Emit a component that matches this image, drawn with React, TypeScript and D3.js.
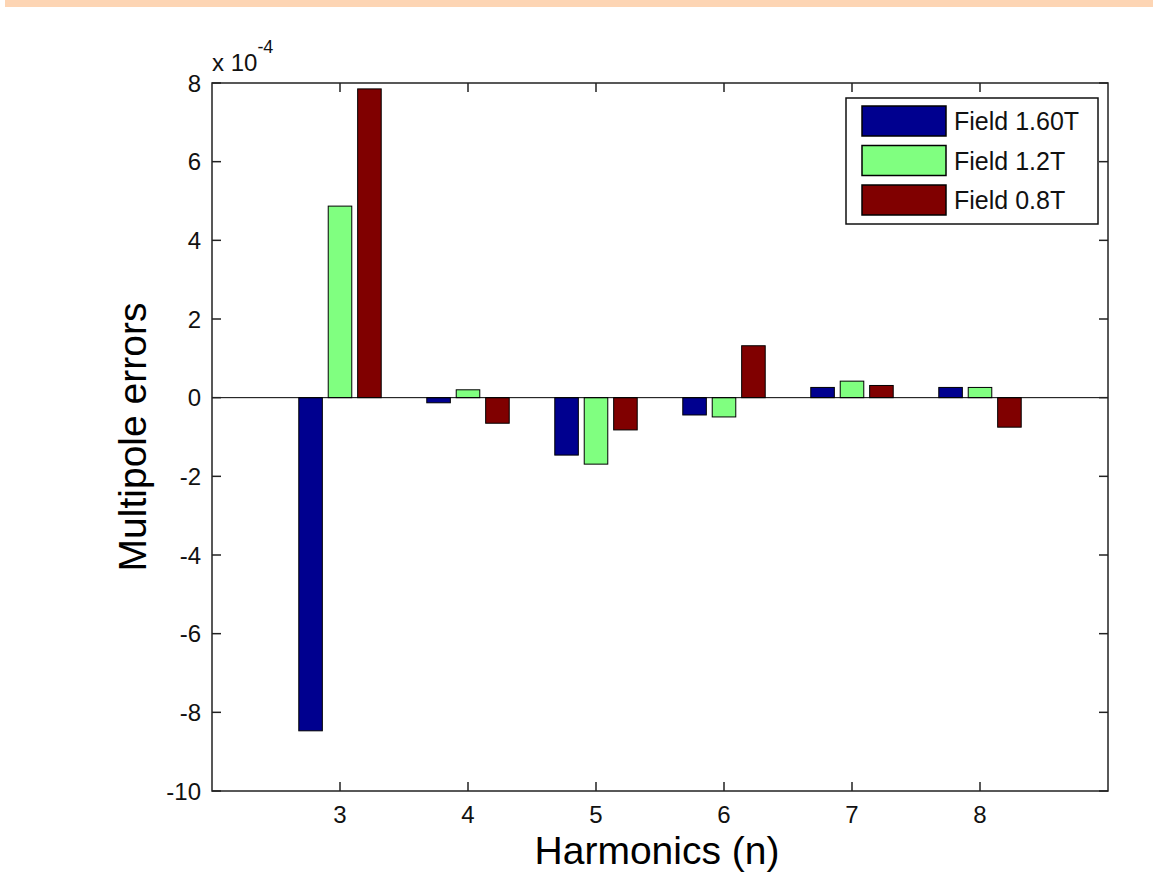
import React from 'react';
import * as d3 from 'd3';

// harmonics on the x axis
const harmonics = [3, 4, 5, 6, 7, 8];
const seriesNames = ['Field 1.60T', 'Field 1.2T', 'Field 0.8T'];
const seriesColors = ['#00008f', '#80ff80', '#800000'];

// multipole errors, in units of 1e-4
const field160 = [-8.47, -0.13, -1.46, -0.44, 0.26, 0.26];
const field12 = [4.87, 0.2, -1.69, -0.49, 0.42, 0.26];
const field08 = [7.85, -0.65, -0.82, 1.32, 0.31, -0.75];

const yTicks = [-10, -8, -6, -4, -2, 0, 2, 4, 6, 8];

const font = '"Liberation Sans", Arial, sans-serif';

const App = () => {
  const width = 1153;
  const height = 873;
  const margin = { top: 83, right: 45, bottom: 82, left: 212 };

  const x = d3.scaleLinear().domain([2, 9]).range([margin.left, width - margin.right]);
  const y = d3.scaleLinear().domain([-10, 8]).range([height - margin.bottom, margin.top]);

  const series = [field160, field12, field08];
  const unit = x(1) - x(0);
  const sub = d3
    .scaleBand<number>()
    .domain([0, 1, 2])
    .range([-0.345 * unit, 0.345 * unit])
    .paddingInner(0.2)
    .paddingOuter(0.1);

  const [x0, x1] = x.range();
  const [yb, yt] = y.range();
  const tick = 9;

  // legend layout
  const lg = { left: 846, top: 98, w: 252, h: 126, row: 39.5 };

  return (
    <svg width={width} height={height} style={{ display: 'block', position: 'absolute', left: 0, top: 0 }}>
      <rect x={0} y={0} width={width} height={height} fill="#fff" />
      <rect x={5} y={0} width={width - 5} height={7} fill="#fdd5b4" />

      {/* bars */}
      {series.map((vals, si) =>
        vals.map((v, i) => (
          <rect
            key={`${si}-${i}`}
            x={x(harmonics[i]) + (sub(si) as number)}
            y={y(Math.max(0, v))}
            width={sub.bandwidth()}
            height={Math.abs(y(v) - y(0))}
            fill={seriesColors[si]}
            stroke="#000"
            strokeWidth={1}
          />
        ))
      )}

      {/* zero baseline */}
      <line x1={x0} x2={x1} y1={y(0)} y2={y(0)} stroke="#000" strokeWidth={1} />

      {/* axes box */}
      <rect x={x0} y={yt} width={x1 - x0} height={yb - yt} fill="none" stroke="#222" strokeWidth={1.5} />

      {yTicks.map((t) => (
        <g key={`y${t}`}>
          <line x1={x0} x2={x0 + tick} y1={y(t)} y2={y(t)} stroke="#222" strokeWidth={1.5} />
          <line x1={x1} x2={x1 - tick} y1={y(t)} y2={y(t)} stroke="#222" strokeWidth={1.5} />
          <text x={x0 - 11} y={y(t)} dy="0.36em" textAnchor="end" fontFamily={font} fontSize={24} fill="#111">
            {t}
          </text>
        </g>
      ))}

      {harmonics.map((h) => (
        <g key={`x${h}`}>
          <line x1={x(h)} x2={x(h)} y1={yb} y2={yb - tick} stroke="#222" strokeWidth={1.5} />
          <line x1={x(h)} x2={x(h)} y1={yt} y2={yt + tick} stroke="#222" strokeWidth={1.5} />
          <text x={x(h)} y={yb + 32} textAnchor="middle" fontFamily={font} fontSize={24} fill="#111">
            {h}
          </text>
        </g>
      ))}

      {/* exponent */}
      <text x={x0} y={71} fontFamily={font} fontSize={24} fill="#111">
        x 10
        <tspan dy={-18} fontSize={18}>-4</tspan>
      </text>

      {/* axis titles */}
      <text x={(x0 + x1) / 2 - 3} y={864} textAnchor="middle" fontFamily={font} fontSize={39} fill="#000">
        Harmonics (n)
      </text>
      <text
        transform={`translate(146,${(yt + yb) / 2}) rotate(-90)`}
        textAnchor="middle"
        fontFamily={font}
        fontSize={39}
        fill="#000"
      >
        Multipole errors
      </text>

      {/* legend */}
      <rect x={lg.left} y={lg.top} width={lg.w} height={lg.h} fill="#fff" stroke="#111" strokeWidth={1.5} />
      {seriesNames.map((name, i) => {
        const cy = lg.top + 23 + i * lg.row;
        return (
          <g key={name}>
            <rect x={lg.left + 16} y={cy - 15} width={84} height={30} fill={seriesColors[i]} stroke="#000" strokeWidth={1.5} />
            <text x={lg.left + 108} y={cy + 9} fontFamily={font} fontSize={25} fill="#111">
              {name}
            </text>
          </g>
        );
      })}
    </svg>
  );
};

export default App;
